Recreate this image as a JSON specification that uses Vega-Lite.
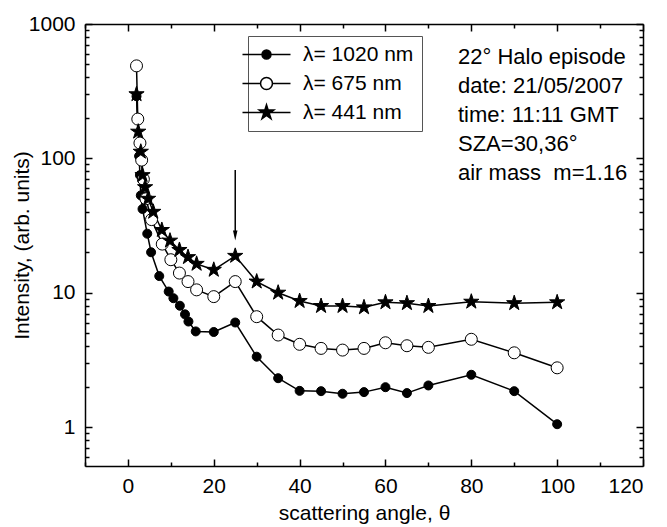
{
  "$schema": "https://vega.github.io/schema/vega-lite/v6.json",
  "width": 558,
  "height": 442,
  "autosize": {"type": "none"},
  "padding": {"left": 85, "top": 24, "right": 24, "bottom": 61},
  "background": "white",
  "config": {
    "view": {"stroke": null},
    "font": "Liberation Sans",
    "axis": {
      "domainColor": "black", "domainWidth": 1.5, "tickColor": "black", "tickWidth": 1.5,
      "labelColor": "black", "titleColor": "black", "labelFont": "Liberation Sans", "titleFont": "Liberation Sans",
      "labelFontSize": 21, "titleFontSize": 21, "titleFontWeight": "normal", "grid": false
    },
    "legend": {
      "orient": "none", "legendX": 163, "legendY": 12, "padding": 8,
      "strokeColor": "#555", "fillColor": "white",
      "labelFontSize": 21, "labelFont": "Liberation Sans", "labelColor": "black", "labelOffset": 26, "labelLimit": 0,
      "rowPadding": 7, "symbolSize": 196, "symbolStrokeColor": "black", "symbolStrokeWidth": 1.5, "symbolOpacity": 1
    }
  },
  "datasets": {
    "obs": [
      {"series": "λ= 1020 nm", "angle": 2, "intensity": 290},
      {"series": "λ= 1020 nm", "angle": 2.6, "intensity": 104},
      {"series": "λ= 1020 nm", "angle": 2.8, "intensity": 75},
      {"series": "λ= 1020 nm", "angle": 3.0, "intensity": 53},
      {"series": "λ= 1020 nm", "angle": 3.4, "intensity": 42},
      {"series": "λ= 1020 nm", "angle": 4.5, "intensity": 27.5},
      {"series": "λ= 1020 nm", "angle": 5.4, "intensity": 20},
      {"series": "λ= 1020 nm", "angle": 7.3, "intensity": 13.3},
      {"series": "λ= 1020 nm", "angle": 9.5, "intensity": 10.2},
      {"series": "λ= 1020 nm", "angle": 10.6, "intensity": 9.1},
      {"series": "λ= 1020 nm", "angle": 12.1, "intensity": 8.0},
      {"series": "λ= 1020 nm", "angle": 13.3, "intensity": 6.9},
      {"series": "λ= 1020 nm", "angle": 14.1, "intensity": 6.1},
      {"series": "λ= 1020 nm", "angle": 15.8, "intensity": 5.15},
      {"series": "λ= 1020 nm", "angle": 20, "intensity": 5.1},
      {"series": "λ= 1020 nm", "angle": 25, "intensity": 6.0},
      {"series": "λ= 1020 nm", "angle": 30, "intensity": 3.34},
      {"series": "λ= 1020 nm", "angle": 35, "intensity": 2.31},
      {"series": "λ= 1020 nm", "angle": 40, "intensity": 1.86},
      {"series": "λ= 1020 nm", "angle": 45, "intensity": 1.85},
      {"series": "λ= 1020 nm", "angle": 50, "intensity": 1.77},
      {"series": "λ= 1020 nm", "angle": 55, "intensity": 1.82},
      {"series": "λ= 1020 nm", "angle": 60, "intensity": 1.98},
      {"series": "λ= 1020 nm", "angle": 65, "intensity": 1.79},
      {"series": "λ= 1020 nm", "angle": 70, "intensity": 2.04},
      {"series": "λ= 1020 nm", "angle": 80, "intensity": 2.45},
      {"series": "λ= 1020 nm", "angle": 90, "intensity": 1.85},
      {"series": "λ= 1020 nm", "angle": 100, "intensity": 1.05},
      {"series": "λ= 675 nm", "angle": 2, "intensity": 488},
      {"series": "λ= 675 nm", "angle": 2.3, "intensity": 196},
      {"series": "λ= 675 nm", "angle": 2.8, "intensity": 130},
      {"series": "λ= 675 nm", "angle": 3.2, "intensity": 97},
      {"series": "λ= 675 nm", "angle": 3.6, "intensity": 70},
      {"series": "λ= 675 nm", "angle": 4.2, "intensity": 50},
      {"series": "λ= 675 nm", "angle": 5.5, "intensity": 35},
      {"series": "λ= 675 nm", "angle": 8, "intensity": 23},
      {"series": "λ= 675 nm", "angle": 10, "intensity": 17.6},
      {"series": "λ= 675 nm", "angle": 12, "intensity": 14},
      {"series": "λ= 675 nm", "angle": 14, "intensity": 12.1},
      {"series": "λ= 675 nm", "angle": 16, "intensity": 10.5},
      {"series": "λ= 675 nm", "angle": 20, "intensity": 9.35},
      {"series": "λ= 675 nm", "angle": 25, "intensity": 12.1},
      {"series": "λ= 675 nm", "angle": 30, "intensity": 6.63},
      {"series": "λ= 675 nm", "angle": 35, "intensity": 4.84},
      {"series": "λ= 675 nm", "angle": 40, "intensity": 4.13},
      {"series": "λ= 675 nm", "angle": 45, "intensity": 3.85},
      {"series": "λ= 675 nm", "angle": 50, "intensity": 3.74},
      {"series": "λ= 675 nm", "angle": 55, "intensity": 3.85},
      {"series": "λ= 675 nm", "angle": 60, "intensity": 4.24},
      {"series": "λ= 675 nm", "angle": 65, "intensity": 4.03},
      {"series": "λ= 675 nm", "angle": 70, "intensity": 3.92},
      {"series": "λ= 675 nm", "angle": 80, "intensity": 4.5},
      {"series": "λ= 675 nm", "angle": 90, "intensity": 3.57},
      {"series": "λ= 675 nm", "angle": 100, "intensity": 2.76},
      {"series": "λ= 441 nm", "angle": 2, "intensity": 300},
      {"series": "λ= 441 nm", "angle": 2.4, "intensity": 158},
      {"series": "λ= 441 nm", "angle": 3, "intensity": 112},
      {"series": "λ= 441 nm", "angle": 3.4, "intensity": 75},
      {"series": "λ= 441 nm", "angle": 4, "intensity": 61},
      {"series": "λ= 441 nm", "angle": 4.7, "intensity": 50},
      {"series": "λ= 441 nm", "angle": 5.9, "intensity": 40},
      {"series": "λ= 441 nm", "angle": 7.9, "intensity": 29.3},
      {"series": "λ= 441 nm", "angle": 9.8, "intensity": 24.4},
      {"series": "λ= 441 nm", "angle": 12, "intensity": 20.8},
      {"series": "λ= 441 nm", "angle": 14, "intensity": 18.4},
      {"series": "λ= 441 nm", "angle": 16, "intensity": 16.4},
      {"series": "λ= 441 nm", "angle": 20, "intensity": 14.8},
      {"series": "λ= 441 nm", "angle": 25, "intensity": 18.8},
      {"series": "λ= 441 nm", "angle": 30, "intensity": 12.1},
      {"series": "λ= 441 nm", "angle": 35, "intensity": 10},
      {"series": "λ= 441 nm", "angle": 40, "intensity": 8.67},
      {"series": "λ= 441 nm", "angle": 45, "intensity": 7.96},
      {"series": "λ= 441 nm", "angle": 50, "intensity": 7.96},
      {"series": "λ= 441 nm", "angle": 55, "intensity": 7.78},
      {"series": "λ= 441 nm", "angle": 60, "intensity": 8.48},
      {"series": "λ= 441 nm", "angle": 65, "intensity": 8.36},
      {"series": "λ= 441 nm", "angle": 70, "intensity": 7.96},
      {"series": "λ= 441 nm", "angle": 80, "intensity": 8.57},
      {"series": "λ= 441 nm", "angle": 90, "intensity": 8.36},
      {"series": "λ= 441 nm", "angle": 100, "intensity": 8.48}
    ]
  },
  "layer": [
    {
      "data": {"name": "obs"},
      "mark": {"type": "line", "color": "black", "strokeWidth": 1.5},
      "encoding": {
        "x": {"field": "angle", "type": "quantitative",
          "scale": {"domain": [-10, 120], "nice": false, "zero": false},
          "axis": {"orient": "bottom", "values": [0, 20, 40, 60, 80, 100, 120], "tickSize": -7, "labelPadding": 16, "title": "scattering angle, θ", "titlePadding": 6}},
        "y": {"field": "intensity", "type": "quantitative",
          "scale": {"type": "log", "domain": [0.513, 1000], "nice": false},
          "axis": {"orient": "left", "values": [1, 10, 100, 1000], "format": "d", "tickSize": -7, "labelPadding": 17, "title": "Intensity, (arb. units)", "titlePadding": -4}},
        "detail": {"field": "series", "type": "nominal"}
      }
    },
    {
      "data": {"name": "obs"},
      "mark": {"type": "point", "filled": true, "stroke": "black", "strokeWidth": 1, "opacity": 1},
      "encoding": {
        "x": {"field": "angle", "type": "quantitative",
          "scale": {"domain": [-10, 120], "nice": false, "zero": false},
          "axis": {"orient": "bottom", "values": [-10, 10, 30, 50, 70, 90, 110], "labels": false, "tickSize": -4, "title": null, "domain": false}},
        "y": {"field": "intensity", "type": "quantitative",
          "scale": {"type": "log", "domain": [0.513, 1000], "nice": false},
          "axis": {"orient": "left", "values": [0.6, 0.7, 0.8, 0.9, 2, 3, 4, 5, 6, 7, 8, 9, 20, 30, 40, 50, 60, 70, 80, 90, 200, 300, 400, 500, 600, 700, 800, 900], "labels": false, "tickSize": -4, "title": null, "domain": false}},
        "shape": {"condition": {"test": "datum.series === 'λ= 441 nm'", "value": "M0,-1L0.2245,-0.309L0.9511,-0.309L0.3633,0.118L0.5878,0.809L0,0.382L-0.5878,0.809L-0.3633,0.118L-0.9511,-0.309L-0.2245,-0.309Z"}, "value": "circle"},
        "fill": {"condition": {"test": "datum.series === 'λ= 675 nm'", "value": "white"}, "value": "black"},
        "size": {"condition": [
          {"test": "datum.series === 'λ= 675 nm'", "value": 144},
          {"test": "datum.series === 'λ= 441 nm'", "value": 256}
        ], "value": 81}
      }
    },
    {
      "data": {"name": "obs"},
      "transform": [{"filter": "false"}],
      "mark": {"type": "point", "filled": true, "strokeWidth": 1.5, "opacity": 1},
      "encoding": {
        "shape": {"field": "series", "type": "nominal",
          "scale": {"domain": ["λ= 1020 nm", "λ= 675 nm", "λ= 441 nm"], "range": [
            "M-3.43,0H3.43M-0.64,0A0.64,0.64,0,1,0,0.64,0A0.64,0.64,0,1,0,-0.64,0Z",
            "M-3.43,0H-0.85M0.85,0H3.43M-0.85,0A0.85,0.85,0,1,0,0.85,0A0.85,0.85,0,1,0,-0.85,0Z",
            "M-3.43,0H3.43M0,-1.1L0.247,-0.34L1.046,-0.34L0.4,0.13L0.647,0.89L0,0.42L-0.647,0.89L-0.4,0.13L-1.046,-0.34L-0.247,-0.34Z"]},
          "legend": {"title": null}},
        "fill": {"field": "series", "type": "nominal",
          "scale": {"domain": ["λ= 1020 nm", "λ= 675 nm", "λ= 441 nm"], "range": ["black", "white", "black"]},
          "legend": {"title": null}},
        "stroke": {"field": "series", "type": "nominal",
          "scale": {"domain": ["λ= 1020 nm", "λ= 675 nm", "λ= 441 nm"], "range": ["black", "black", "black"]},
          "legend": {"title": null}}
      }
    },
    {
      "data": {"values": [{"note": "22° halo peak"}]},
      "mark": {"type": "rule", "color": "black", "strokeWidth": 1.5},
      "encoding": {
        "x": {"datum": 25, "type": "quantitative",
          "scale": {"domain": [-10, 120], "nice": false, "zero": false},
          "axis": {"orient": "top", "values": [0, 20, 40, 60, 80, 100, 120], "labels": false, "tickSize": -7, "title": null}},
        "y": {"datum": 82, "type": "quantitative",
          "scale": {"type": "log", "domain": [0.513, 1000], "nice": false},
          "axis": {"orient": "right", "values": [1, 10, 100, 1000], "labels": false, "tickSize": -7, "title": null}},
        "y2": {"datum": 26.6}
      }
    },
    {
      "data": {"values": [{"note": "22° halo peak"}]},
      "mark": {"type": "point", "filled": true, "color": "black", "opacity": 1, "size": 100, "shape": "M-0.45,-1L0,1L0.45,-1Z"},
      "encoding": {
        "x": {"datum": 25, "type": "quantitative",
          "scale": {"domain": [-10, 120], "nice": false, "zero": false},
          "axis": {"orient": "top", "values": [-10, 10, 30, 50, 70, 90, 110], "labels": false, "tickSize": -4, "title": null, "domain": false}},
        "y": {"datum": 26.6, "type": "quantitative",
          "scale": {"type": "log", "domain": [0.513, 1000], "nice": false},
          "axis": {"orient": "right", "values": [0.6, 0.7, 0.8, 0.9, 2, 3, 4, 5, 6, 7, 8, 9, 20, 30, 40, 50, 60, 70, 80, 90, 200, 300, 400, 500, 600, 700, 800, 900], "labels": false, "tickSize": -4, "title": null, "domain": false}}
      }
    },
    {
      "data": {"values": [{"note": "22° Halo episode"}]},
      "mark": {"type": "text", "align": "left", "baseline": "middle", "fontSize": 22, "font": "Liberation Sans", "color": "black", "lineHeight": 29},
      "encoding": {
        "x": {"datum": 76.9, "type": "quantitative", "scale": {"domain": [-10, 120], "nice": false, "zero": false}, "axis": null},
        "y": {"datum": 569, "type": "quantitative", "scale": {"type": "log", "domain": [0.513, 1000], "nice": false}, "axis": null},
        "text": {"value": ["22° Halo episode", "date: 21/05/2007", "time: 11:11 GMT", "SZA=30,36°", "air mass\u00a0 m=1.16"]}
      }
    }
  ],
  "resolve": {"axis": {"x": "independent", "y": "independent"}}
}
